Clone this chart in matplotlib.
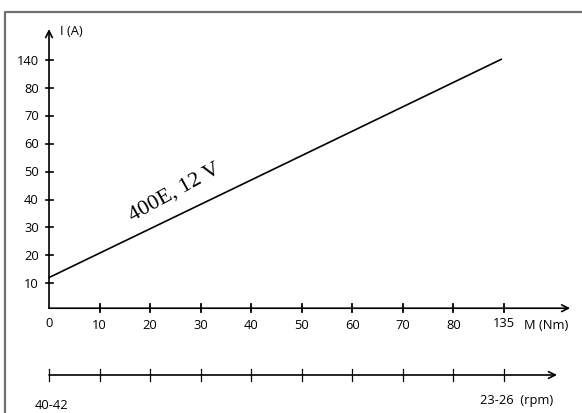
import numpy as np
import matplotlib.pyplot as plt

# torque axis labels (non-linear: last step jumps to 135)
torque_ticks = [0, 10, 20, 30, 40, 50, 60, 70, 80, 135]
current_ticks = [10, 20, 30, 40, 50, 60, 70, 80, 140]

# characteristic 400E, 12 V
torque_line = [0, 132]
current_line = [12, 142]

speed_left = "40-42"
speed_right = "23-26  (rpm)"


def to_pos(value, ticks, first_pos):
    # piecewise linear mapping from value to evenly spaced tick position
    ticks = np.asarray(ticks, dtype=float)
    pos = np.arange(len(ticks)) + first_pos
    value = np.asarray(value, dtype=float)
    out = np.interp(value, ticks, pos)
    hi = value > ticks[-1]
    out[hi] = pos[-1] + (value[hi] - ticks[-1]) / (ticks[-1] - ticks[-2])
    lo = value < ticks[0]
    out[lo] = pos[0] - (ticks[0] - value[lo]) / (ticks[1] - ticks[0])
    return out


fig = plt.figure(figsize=(5.82, 4.14), dpi=100)
ax = fig.add_axes([0, 0, 1, 1])
ax.set_xlim(-0.9693, 10.544)
ax.set_ylim(-3.661, 11.199)
ax.axis("off")

lab_font = dict(family="Open Sans", fontsize=9.3, color="black")
axis_y = 0.1
speed_y = -2.297

# frame (only left and top edges visible)
ax.plot([-0.861, -0.861, 10.6], [-3.8, 10.75, 10.75], color="#707070", lw=1.6,
        solid_capstyle="butt", clip_on=False)

arrow = dict(arrowstyle="->", lw=1.2, color="black", mutation_scale=12, shrinkA=0, shrinkB=0)

# axes with arrows
ax.annotate("", xy=(0, 10.12), xytext=(0, axis_y), arrowprops=arrow)
ax.annotate("", xy=(10.31, axis_y), xytext=(0, axis_y), arrowprops=arrow)
ax.annotate("", xy=(10.05, speed_y), xytext=(0, speed_y), arrowprops=arrow)

# torque ticks and labels
xpos = np.arange(len(torque_ticks))
for x, lab in zip(xpos, torque_ticks):
    if x > 0:
        ax.plot([x, x], [axis_y - 0.14, axis_y + 0.14], color="black", lw=1.3)
    dy = 0.1 if lab in (0, 135) else 0
    ax.text(x, -0.5 + dy, str(lab), ha="center", va="center", **lab_font)
ax.text(9.4, -0.5, "M (Nm)", ha="left", va="center", **lab_font)

# speed ticks
for x in xpos:
    ax.plot([x, x], [speed_y - 0.22, speed_y + 0.22], color="black", lw=0.9)
ax.text(0.04, -3.34, speed_left, ha="center", va="center", **lab_font)
ax.text(8.53, -3.16, speed_right, ha="left", va="center", **lab_font)

# current ticks and labels
ypos = np.arange(1, len(current_ticks) + 1)
for y, lab in zip(ypos, current_ticks):
    ax.plot([-0.06, 0.08], [y, y], color="black", lw=1.2)
    ax.text(-0.2, y, str(lab), ha="right", va="center", **lab_font)
ax.text(0.218, 10.07, "I (A)", ha="left", va="center", **lab_font)

# characteristic line
lx = to_pos(torque_line, torque_ticks, 0)
ly = to_pos(current_line, current_ticks, 1)
ax.plot(lx, ly, color="black", lw=1.2)
ax.text(2.49, 4.31, "400E, 12 V", family="Liberation Serif", fontsize=16,
        rotation=29, rotation_mode="anchor", ha="center", va="center")

fig.savefig("out.png", dpi=100)
